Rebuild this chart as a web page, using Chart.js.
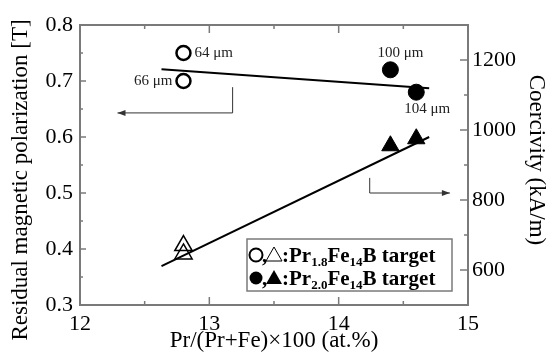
<!DOCTYPE html>
<html>
<head>
<meta charset="utf-8">
<script src="https://cdn.jsdelivr.net/npm/chart.js@4.4.0/dist/chart.umd.min.js"></script>
<style>
  html, body { margin: 0; padding: 0; background: #fff; }
  #wrap { width: 550px; height: 362px; position: relative; }
</style>
</head>
<body>
<div id="wrap"><canvas id="grafico"></canvas></div>
<script>
// Pr/(Pr+Fe) x 100 (at.%)
const xOpen = [12.8, 12.8];
const xFilled = [14.4, 14.6];
// residual magnetic polarization [T] (circles, left axis)
const jrOpen = [0.75, 0.70];
const jrFilled = [0.72, 0.68];
// coercivity kA/m (triangles, right axis)
const hcOpen = [670, 646];
const hcFilled = [955, 975];
// fitted lines
const fitX = [12.63, 14.70];
const jrFit = [0.721, 0.687];
const hcFit = [611, 980];
// grain size labels next to the circles
const sizeOpen = ['64 μm', '66 μm'];
const sizeFilled = ['100 μm', '104 μm'];

// ticks
const xTicks = [12, 13, 14, 15];
const xMinor = [12.5, 13.5, 14.5];
const yTicks = [0.3, 0.4, 0.5, 0.6, 0.7, 0.8];
const yMinor = [0.35, 0.45, 0.55, 0.65, 0.75];
const y2Ticks = [600, 800, 1000, 1200];
const y2Minor = [700, 900, 1100];

const SERIF = '"Liberation Serif", "DejaVu Serif", serif';
const GREY = '#7a7a7a';

const pts = (xs, ys) => xs.map((x, i) => ({ x: x, y: ys[i] }));

function linha(ctx, x1, y1, x2, y2) {
  ctx.beginPath();
  ctx.moveTo(x1, y1);
  ctx.lineTo(x2, y2);
  ctx.stroke();
}

function seta(ctx, x, y, dir) {
  // small filled arrow head, dir = -1 left, 1 right
  ctx.beginPath();
  ctx.moveTo(x, y);
  ctx.lineTo(x - dir * 8, y - 3);
  ctx.lineTo(x - dir * 8, y + 3);
  ctx.closePath();
  ctx.fill();
}

// text with subscripts: parts = [[text, isSub], ...]
function textoRico(ctx, parts, x, y, size) {
  parts.forEach(p => {
    const sub = p[1];
    ctx.font = 'bold ' + (sub ? Math.round(size * 0.62) : size) + 'px ' + SERIF;
    ctx.fillText(p[0], x, sub ? y + 4 : y);
    x += ctx.measureText(p[0]).width;
  });
}

const molduraPlugin = {
  id: 'moldura',
  afterDatasetsDraw(chart) {
    const ctx = chart.ctx;
    const a = chart.chartArea;
    const sx = chart.scales.x, sy = chart.scales.y, sy2 = chart.scales.y2;
    ctx.save();
    ctx.strokeStyle = GREY;
    ctx.lineWidth = 2;
    ctx.strokeRect(a.left, a.top, a.right - a.left, a.bottom - a.top);
    ctx.lineWidth = 1.5;
    xTicks.forEach(v => {
      const p = sx.getPixelForValue(v);
      linha(ctx, p, a.bottom, p, a.bottom - 8);
      linha(ctx, p, a.top, p, a.top + 8);
    });
    xMinor.forEach(v => {
      const p = sx.getPixelForValue(v);
      linha(ctx, p, a.bottom, p, a.bottom - 4);
      linha(ctx, p, a.top, p, a.top + 4);
    });
    yTicks.forEach(v => { const p = sy.getPixelForValue(v); linha(ctx, a.left, p, a.left + 6, p); });
    yMinor.forEach(v => { const p = sy.getPixelForValue(v); linha(ctx, a.left, p, a.left + 3, p); });
    y2Ticks.forEach(v => { const p = sy2.getPixelForValue(v); linha(ctx, a.right, p, a.right - 8, p); });
    y2Minor.forEach(v => { const p = sy2.getPixelForValue(v); linha(ctx, a.right, p, a.right - 4, p); });

    // arrows pointing to each axis
    ctx.strokeStyle = '#333';
    ctx.fillStyle = '#333';
    ctx.lineWidth = 1;
    const ax = sx.getPixelForValue(13.18), ay1 = sy.getPixelForValue(0.689), ay2 = sy.getPixelForValue(0.643);
    const axEnd = sx.getPixelForValue(12.29);
    linha(ctx, ax, ay1, ax, ay2);
    linha(ctx, ax, ay2, axEnd, ay2);
    seta(ctx, axEnd, ay2, -1);
    const bx = sx.getPixelForValue(14.24), by1 = sy.getPixelForValue(0.527), by2 = sy.getPixelForValue(0.5);
    const bxEnd = sx.getPixelForValue(14.86);
    linha(ctx, bx, by1, bx, by2);
    linha(ctx, bx, by2, bxEnd, by2);
    seta(ctx, bxEnd, by2, 1);

    // grain size labels
    ctx.fillStyle = '#222';
    ctx.font = '15px ' + SERIF;
    ctx.textBaseline = 'middle';
    ctx.textAlign = 'left';
    ctx.fillText(sizeOpen[0], sx.getPixelForValue(xOpen[0]) + 11, sy.getPixelForValue(jrOpen[0]));
    ctx.textAlign = 'right';
    ctx.fillText(sizeOpen[1], sx.getPixelForValue(xOpen[1]) - 11, sy.getPixelForValue(jrOpen[1]));
    ctx.textAlign = 'center';
    ctx.fillText(sizeFilled[0], sx.getPixelForValue(xFilled[0]) + 10, sy.getPixelForValue(jrFilled[0]) - 17);
    ctx.fillText(sizeFilled[1], sx.getPixelForValue(xFilled[1]) + 11, sy.getPixelForValue(jrFilled[1]) + 17);

    // legend box
    const lx = a.right - 221, ly = a.bottom - 66, lw = 205, lh = 52;
    ctx.fillStyle = '#fff';
    ctx.fillRect(lx, ly, lw, lh);
    ctx.strokeStyle = GREY;
    ctx.lineWidth = 1.5;
    ctx.strokeRect(lx, ly, lw, lh);
    ctx.textAlign = 'left';
    ctx.textBaseline = 'alphabetic';
    const linhas = [
      { cheio: false, parts: [[',', 0], [':Pr', 0], ['1.8', 1], ['Fe', 0], ['14', 1], ['B target', 0]] },
      { cheio: true, parts: [[',', 0], [':Pr', 0], ['2.0', 1], ['Fe', 0], ['14', 1], ['B target', 0]] }
    ];
    linhas.forEach((l, i) => {
      const cy = ly + 16 + i * 23;
      ctx.strokeStyle = '#000';
      ctx.fillStyle = '#000';
      ctx.lineWidth = l.cheio ? 1 : 2;
      ctx.beginPath();
      ctx.arc(lx + 9, cy, 6.5, 0, Math.PI * 2);
      l.cheio ? ctx.fill() : ctx.stroke();
      ctx.lineWidth = 1;
      ctx.beginPath();
      ctx.moveTo(lx + 27, cy - 8);
      ctx.lineTo(lx + 35, cy + 6);
      ctx.lineTo(lx + 19, cy + 6);
      ctx.closePath();
      l.cheio ? ctx.fill() : ctx.stroke();
      textoRico(ctx, [l.parts[0]], lx + 15, cy + 7, 21);
      textoRico(ctx, l.parts.slice(1), lx + 35, cy + 7, 21);
    });
    ctx.restore();
  },
  afterDraw(chart) {
    const ctx = chart.ctx;
    const a = chart.chartArea;
    ctx.save();
    ctx.fillStyle = '#000';
    ctx.font = '23px ' + SERIF;
    ctx.textAlign = 'center';
    ctx.textBaseline = 'middle';
    ctx.fillText('Pr/(Pr+Fe)×100 (at.%)', (a.left + a.right) / 2, a.bottom + 36);
    ctx.save();
    ctx.translate(21, 180);
    ctx.rotate(-Math.PI / 2);
    ctx.fillText('Residual magnetic polarization [T]', 0, 0);
    ctx.restore();
    ctx.save();
    ctx.translate(536, 160);
    ctx.rotate(Math.PI / 2);
    ctx.fillText('Coercivity (kA/m)', 0, 0);
    ctx.restore();
    ctx.restore();
  }
};

Chart.defaults.font.family = SERIF;
Chart.defaults.color = '#000';

new Chart(document.getElementById('grafico'), {
  type: 'scatter',
  data: {
    datasets: [
      { data: pts(xOpen, jrOpen), yAxisID: 'y', pointStyle: 'circle', pointRadius: 7,
        borderColor: '#000', backgroundColor: '#fff', borderWidth: 2.5 },
      { data: pts(xFilled, jrFilled), yAxisID: 'y', pointStyle: 'circle', pointRadius: 8,
        borderColor: '#000', backgroundColor: '#000', borderWidth: 1 },
      { data: pts(xOpen, hcOpen), yAxisID: 'y2', pointStyle: 'triangle', pointRadius: 10,
        borderColor: '#000', backgroundColor: 'rgba(255,255,255,0)', borderWidth: 1.5 },
      { data: pts(xFilled, hcFilled), yAxisID: 'y2', pointStyle: 'triangle', pointRadius: 10,
        borderColor: '#000', backgroundColor: '#000', borderWidth: 1 },
      { data: pts(fitX, jrFit), yAxisID: 'y', showLine: true, pointRadius: 0,
        borderColor: '#000', borderWidth: 2 },
      { data: pts(fitX, hcFit), yAxisID: 'y2', showLine: true, pointRadius: 0,
        borderColor: '#000', borderWidth: 2 }
    ]
  },
  options: {
    responsive: true,
    maintainAspectRatio: false,
    devicePixelRatio: 1,
    animation: false,
    layout: { padding: { top: 25, left: 0, right: 0, bottom: 0 } },
    plugins: { legend: { display: false }, tooltip: { enabled: false } },
    scales: {
      x: {
        type: 'linear', min: 12, max: 15,
        grid: { display: false, drawTicks: false }, border: { display: false },
        ticks: { font: { size: 22 }, padding: 6, autoSkip: false, maxRotation: 0, callback: v => String(v) },
        afterBuildTicks: s => { s.ticks = xTicks.map(v => ({ value: v })); },
        afterFit: s => { s.height = 57; }
      },
      y: {
        type: 'linear', position: 'left', min: 0.3, max: 0.8,
        grid: { display: false, drawTicks: false }, border: { display: false },
        ticks: { font: { size: 22 }, padding: 7, callback: v => v.toFixed(1) },
        afterBuildTicks: s => { s.ticks = yTicks.map(v => ({ value: v })); },
        afterFit: s => { s.width = 80; }
      },
      y2: {
        type: 'linear', position: 'right', min: 500, max: 1300,
        grid: { display: false, drawTicks: false }, border: { display: false },
        ticks: { font: { size: 22 }, padding: 4, callback: v => String(v) },
        afterBuildTicks: s => { s.ticks = y2Ticks.map(v => ({ value: v })); },
        afterFit: s => { s.width = 82; }
      }
    }
  },
  plugins: [molduraPlugin]
});
</script>
</body>
</html>
